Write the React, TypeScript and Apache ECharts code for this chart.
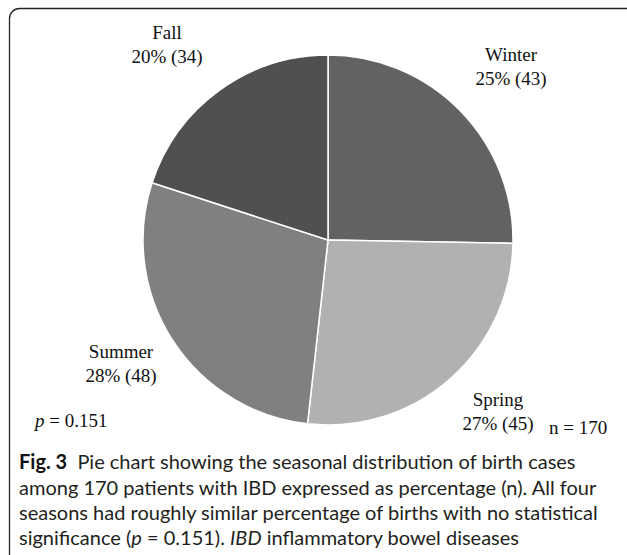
import React, { useEffect, useRef } from "react";
import * as echarts from "echarts";

const seasons = ["Winter", "Spring", "Summer", "Fall"];
const counts = [43, 45, 48, 34];
const percents = [25, 27, 28, 20];
const sliceColors = ["#626262", "#b1b1b1", "#808080", "#505050"];
// label centre positions (px) for each season label
const labelX = [511, 498, 121, 167];
const labelY = [66, 411, 363, 44];

const captionLines = [
  "Pie chart showing the seasonal distribution of birth cases",
  "among 170 patients with IBD expressed as percentage (n). All four",
  "seasons had roughly similar percentage of births with no statistical",
  "significance (",
];

export default function App() {
  const ref = useRef<HTMLDivElement>(null);
  useEffect(() => {
    if (!ref.current) return;
    const chart = echarts.init(ref.current, undefined, { renderer: "svg" });
    const serif = "'Liberation Serif', 'Times New Roman', serif";
    const sans = "Lato, 'Open Sans', sans-serif";
    const capStyle = { fontFamily: sans, fontSize: 20, fill: "#231f20" };
    chart.setOption({
      animation: false,
      backgroundColor: "#ffffff",
      series: [
        {
          type: "pie",
          center: [328, 240],
          radius: 185,
          startAngle: 90,
          clockwise: true,
          itemStyle: { borderColor: "#ffffff", borderWidth: 1.5 },
          label: {
            show: true,
            position: "outside",
            fontFamily: serif,
            fontSize: 19,
            lineHeight: 24,
            color: "#111",
            align: "center",
            formatter: (p: any) =>
              `${p.name}\n${percents[p.dataIndex]}% (${counts[p.dataIndex]})`,
          },
          labelLine: { show: false },
          labelLayout: (p: any) => ({
            x: labelX[p.dataIndex],
            y: labelY[p.dataIndex],
            align: "center",
            verticalAlign: "middle",
          }),
          emphasis: { disabled: true },
          data: seasons.map((s, i) => ({
            name: s,
            value: counts[i],
            itemStyle: { color: sliceColors[i] },
          })),
        },
      ],
      graphic: [
        {
          type: "rect",
          shape: { x: 9.5, y: 8.5, width: 700, height: 560, r: 10 },
          style: { fill: "none", stroke: "#222", lineWidth: 1.3 },
          silent: true,
        },
        {
          type: "text",
          x: 35,
          y: 420,
          style: {
            text: "{i|p} = 0.151",
            fontFamily: serif,
            fontSize: 19,
            fill: "#111",
            verticalAlign: "middle",
            rich: { i: { fontStyle: "italic", fontFamily: serif, fontSize: 19 } },
          },
        },
        {
          type: "text",
          x: 549,
          y: 427,
          style: {
            text: "n = 170",
            fontFamily: serif,
            fontSize: 19,
            fill: "#111",
            verticalAlign: "middle",
          },
        },
        {
          type: "text",
          x: 19,
          y: 461,
          style: {
            ...capStyle,
            verticalAlign: "middle",
            text: "{b|Fig. 3}  " + captionLines[0],
            rich: { b: { fontWeight: "bold", fontFamily: sans, fontSize: 20, fill: "#111" } },
          },
        },
        {
          type: "text",
          x: 19,
          y: 487,
          style: { ...capStyle, verticalAlign: "middle", text: captionLines[1] },
        },
        {
          type: "text",
          x: 19,
          y: 512,
          style: { ...capStyle, verticalAlign: "middle", text: captionLines[2] },
        },
        {
          type: "text",
          x: 19,
          y: 537,
          style: {
            ...capStyle,
            verticalAlign: "middle",
            text: captionLines[3] + "{i|p} = 0.151). {i|IBD} inflammatory bowel diseases",
            rich: { i: { fontStyle: "italic", fontFamily: sans, fontSize: 20, fill: "#231f20" } },
          },
        },
      ],
    });
    return () => chart.dispose();
  }, []);
  return (
    <div
      ref={ref}
      style={{ position: "fixed", left: 0, top: 0, width: 627, height: 555 }}
    />
  );
}
